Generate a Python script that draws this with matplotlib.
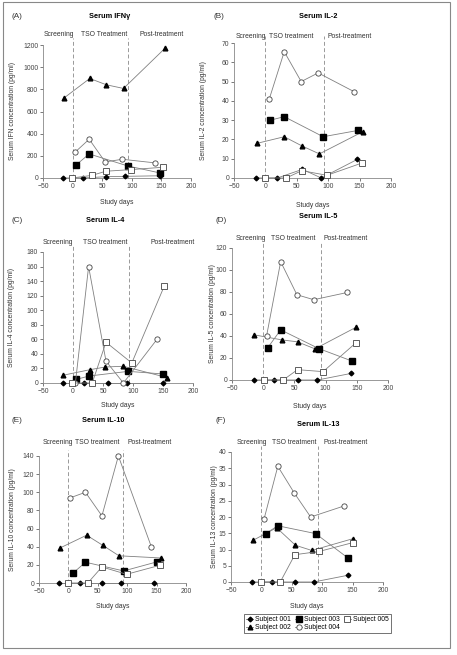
import matplotlib
matplotlib.use("Agg")
import matplotlib.pyplot as plt
from matplotlib.lines import Line2D
from matplotlib.patches import Rectangle

plt.rcParams['font.family'] = ['Liberation Sans', 'DejaVu Sans']

subjects = ['Subject 001', 'Subject 002', 'Subject 003', 'Subject 004', 'Subject 005']

# days / values per subject (001..005) for each cytokine
ifn_days = [[-17, 18, 57, 89, 147], [-15, 29, 57, 86, 156], [6, 28, 93, 148],
            [4, 28, 55, 84, 140], [-1, 33, 56, 99, 153]]
ifn_vals = [[0, 0, 12, 15, 20], [720, 898, 841, 808, 1170], [118, 217, 109, 45],
            [232, 350, 145, 169, 136], [0, 24, 61, 76, 97]]

il2_days = [[-15, 19, 59, 89, 146], [-13, 30, 59, 86, 155], [8, 30, 92, 148],
            [6, 30, 57, 84, 141], [0, 33, 58, 98, 154]]
il2_vals = [[0, 0, 4.5, 0, 9.6], [18, 21.4, 16.5, 12.5, 24], [30, 31.8, 21.4, 24.7],
            [40.8, 65.5, 50, 54.5, 44.8], [0, 0, 3.8, 1.4, 7.8]]

il4_days = [[-17, 19, 58, 90, 150], [-17, 29, 54, 84, 157], [5.5, 27, 92, 150],
            [4, 26, 55, 84, 140], [-2, 32, 55, 98, 152]]
il4_vals = [[0, 0, 0, 0, 0], [10.6, 18.4, 22, 23, 7.4], [5, 9.6, 16, 12.4],
            [0, 160, 30, 0, 60], [0, 0, 56, 27.5, 133]]

il5_days = [[-15, 18, 56, 87, 141], [-14, 29.5, 55, 83, 149], [7.5, 28, 89, 142],
            [5.4, 28, 54, 81, 135], [1.6, 32, 55, 96, 149]]
il5_vals = [[0, 0, 0, 0, 6], [41, 36.5, 34.7, 28.3, 48], [29.5, 45.6, 28.6, 17.3],
            [40, 107.6, 77.5, 73, 79.6], [0, 0, 9.4, 7.6, 34]]

il10_days = [[-16, 19, 57, 89, 146], [-14, 31, 58, 86, 157], [8, 29, 94, 150],
             [3.4, 29, 57, 85, 141], [0, 33, 57, 99, 156]]
il10_vals = [[0, 0, 0, 0, 0], [38.7, 52.7, 41.7, 30, 27.6], [11, 22.9, 13.3, 23.2],
             [94, 100, 74, 140, 40], [0, 0, 17.7, 9.6, 19.6]]

il13_days = [[-16, 17, 56, 86, 143], [-14, 25, 56, 83, 150], [7, 27, 89, 143],
             [4.4, 27, 54, 81, 136], [0, 31, 55, 95, 150]]
il13_vals = [[0, 0, 0, 0, 2.1], [12.8, 16.7, 11.3, 9.7, 13.3], [14.9, 17.3, 14.9, 7.3],
             [19.4, 35.6, 27.4, 20, 23.4], [0, 0, 8.4, 9.4, 12.1]]

letters = ['(A)', '(B)', '(C)', '(D)', '(E)', '(F)']
titles = ['Serum IFNγ', 'Serum IL-2', 'Serum IL-4', 'Serum IL-5', 'Serum IL-10', 'Serum IL-13']
ylabels = ['Serum IFN concentration (pg/ml)', 'Serum IL-2 concentration (pg/ml)',
           'Serum IL-4 concentration (pg/ml)', 'Serum IL-5 concentration (pg/ml)',
           'Serum IL-10 concentration (pg/ml)', 'Serum IL-13 concentration (pg/ml)']
ymax = [1200, 70, 180, 120, 140, 40]
ystep = [200, 10, 20, 20, 20, 5]
xticks = [-50, 0, 50, 100, 150, 200]
phases = [['Screening', 'TSO Treatment', 'Post-treatment']] + [['Screening', 'TSO treatment', 'Post-treatment']] * 5
all_days = [ifn_days, il2_days, il4_days, il5_days, il10_days, il13_days]
all_vals = [ifn_vals, il2_vals, il4_vals, il5_vals, il10_vals, il13_vals]

W, H = 457, 655
# axes box in pixels: left, top, right, bottom
boxes = [(43, 45, 191, 178), (234, 43, 391, 178),
         (43, 252, 193, 383), (232, 248, 388, 380),
         (39, 456, 186, 583), (231, 452, 383, 582)]
letter_pos = [(12, 16), (213, 16), (12, 220), (215, 220), (12, 421), (215, 421)]
title_pos = [(110, 16), (318, 16), (105, 220), (318, 217), (103, 420), (318, 424)]
phase_y = [35, 36, 242, 239, 442, 442]
phase_x = [(59, 104, 162), (251, 291, 350), (58, 105, 173),
           (251, 293, 346), (58, 97, 150), (252, 294, 346)]
ylab_x = [16, 207, 15, 216, 16, 218]
xlab_y = [199, 202, 402, 403, 603, 603]

styles = [dict(marker='D', ms=2.4, mfc='black', mec='black'),
          dict(marker='^', ms=3.4, mfc='black', mec='black'),
          dict(marker='s', ms=4.8, mfc='black', mec='black'),
          dict(marker='o', ms=3.8, mfc='white', mec='#444444', mew=0.6),
          dict(marker='s', ms=4.4, mfc='white', mec='#444444', mew=0.6)]

fs = 4.9
fig = plt.figure(figsize=(W / 100, H / 100), dpi=100)
fig.patches.append(Rectangle((3 / W, 1 - 648 / H), 447 / W, 646 / H, transform=fig.transFigure,
                             fill=False, edgecolor='#888888', lw=0.8))

for i in range(6):
    l, t, r, b = boxes[i]
    ax = fig.add_axes([l / W, 1 - b / H, (r - l) / W, (b - t) / H])
    for k in range(5):
        ax.plot(all_days[i][k], all_vals[i][k], color='#808080', lw=0.6, clip_on=False,
                zorder=3, **styles[k])
    for xv in [0, 93]:
        ax.axvline(xv, ymin=0, ymax=1.05, color='#999999', lw=0.7, ls=(0, (4, 2.5)),
                   clip_on=False, zorder=1)
    ax.set_xlim(-50, 200)
    ax.set_ylim(0, ymax[i])
    ax.set_xticks(xticks)
    ax.set_yticks(range(0, ymax[i] + 1, ystep[i]))
    ax.tick_params(labelsize=fs, colors='#444444', length=2, width=0.5, pad=1.5)
    for s in ['top', 'right']:
        ax.spines[s].set_visible(False)
    for s in ['left', 'bottom']:
        ax.spines[s].set_color('#888888')
        ax.spines[s].set_linewidth(0.6)
    ax.set_ylabel(ylabels[i], fontsize=fs, color='#333333')
    ax.yaxis.set_label_coords((ylab_x[i] - l) / (r - l), 0.5)
    ax.set_xlabel('Study days', fontsize=fs, color='#333333')
    ax.xaxis.set_label_coords(0.5, (b - xlab_y[i]) / (b - t))

    fig.text(letter_pos[i][0] / W, 1 - letter_pos[i][1] / H, letters[i], fontsize=fs + 1,
             color='#333333', va='center', ha='left')
    fig.text(title_pos[i][0] / W, 1 - title_pos[i][1] / H, titles[i], fontsize=5.3,
             fontweight='bold', va='center', ha='center')
    for j in range(3):
        fig.text(phase_x[i][j] / W, 1 - phase_y[i] / H, phases[i][j], fontsize=fs,
                 color='#333333', va='center', ha='center')

handles = [Line2D([], [], color='#808080', lw=0.6, **styles[k]) for k in range(5)]
leg = fig.legend(handles, subjects, loc='upper left', bbox_to_anchor=(244 / W, 1 - 614 / H),
                 ncol=3, fontsize=fs, frameon=True, fancybox=False, handlelength=1.0,
                 handletextpad=0.3, columnspacing=0.6, labelspacing=0.1, borderpad=0.35,
                 borderaxespad=0)
leg.get_frame().set_edgecolor('#333333')
leg.get_frame().set_linewidth(0.6)

fig.savefig('out.png', dpi=100)
